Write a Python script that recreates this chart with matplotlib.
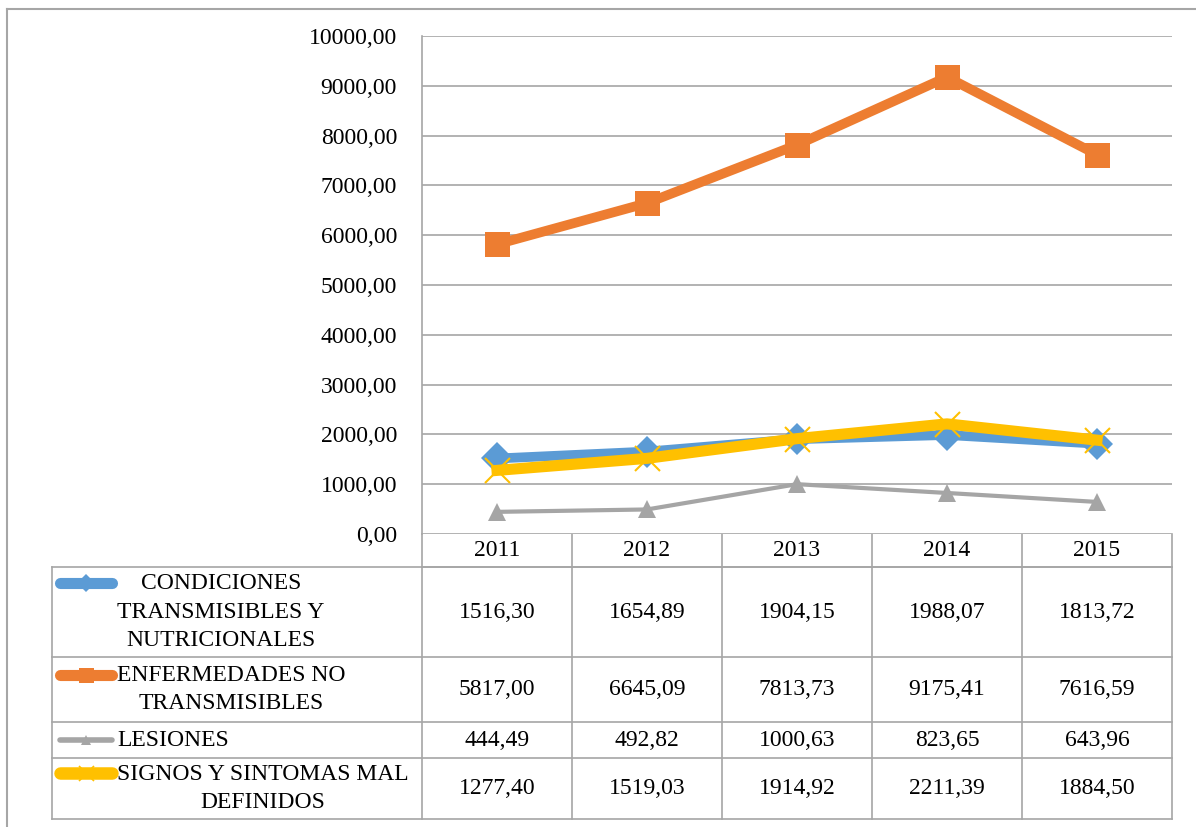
import matplotlib.pyplot as plt
import numpy as np

plt.rcParams['font.family'] = 'serif'
plt.rcParams['font.serif'] = ['Liberation Serif', 'DejaVu Serif']

annees = ["2011", "2012", "2013", "2014", "2015"]
noms = ["CONDICIONES\nTRANSMISIBLES Y\nNUTRICIONALES",
        "ENFERMEDADES NO\nTRANSMISIBLES",
        "LESIONES",
        "SIGNOS Y SINTOMAS MAL\nDEFINIDOS"]
transmisibles = [1516.30, 1654.89, 1904.15, 1988.07, 1813.72]
no_transmisibles = [5817.00, 6645.09, 7813.73, 9175.41, 7616.59]
lesiones = [444.49, 492.82, 1000.63, 823.65, 643.96]
signos = [1277.40, 1519.03, 1914.92, 2211.39, 1884.50]
series = [transmisibles, no_transmisibles, lesiones, signos]

couleurs = ["#5B9BD5", "#ED7D31", "#A5A5A5", "#FFC000"]
marqueurs = ["D", "s", "^", "x"]
epaisseurs = [7, 7, 3, 8]
tailles = [16, 18, 13, 18]

W, H = 1196, 827
fig = plt.figure(figsize=(W / 100, H / 100), dpi=100)

# zone du graphe en pixels
gx0, gx1, gy0, gy1 = 422, 1172, 36, 534
ax = fig.add_axes([gx0 / W, 1 - gy1 / H, (gx1 - gx0) / W, (gy1 - gy0) / H])
x = np.arange(len(annees))
for i in range(len(series)):
    mew = 1.5 if marqueurs[i] == "x" else 0
    ax.plot(x, series[i], color=couleurs[i], lw=epaisseurs[i], marker=marqueurs[i],
            ms=tailles[i], mew=mew, mec=couleurs[i], solid_joinstyle="round", zorder=3 + i)
ax.set_xlim(-0.5, len(annees) - 0.5)
ax.set_ylim(0, 10000)
ax.set_yticks(np.arange(0, 10001, 1000))
ax.set_yticklabels([f"{v:.2f}".replace(".", ",") for v in np.arange(0, 10001, 1000)], fontsize=17)
ax.tick_params(axis="y", length=0, pad=18)
ax.set_xticks([])
ax.grid(axis="y", color="#A6A6A6", lw=1.2)
ax.set_axisbelow(True)
for s in ["top", "right", "bottom"]:
    ax.spines[s].set_visible(False)
ax.spines["left"].set_color("#A6A6A6")
ax.spines["left"].set_linewidth(1.2)

# tableau de données, coordonnées en pixels
tab = fig.add_axes([0, 0, 1, 1], zorder=-1)
tab.set_xlim(0, W)
tab.set_ylim(H, 0)
tab.axis("off")
gris = "#A6A6A6"

# cadre extérieur
tab.plot([7, 7], [9, H], color=gris, lw=1.5)
tab.plot([7, W], [9, 9], color=gris, lw=1.5)

col_bords = np.linspace(gx0, gx1, len(annees) + 1)
col_centres = (col_bords[:-1] + col_bords[1:]) / 2
lignes = [534, 567, 657, 722, 758, 819]
tx0 = 52

# en-tête années
tab.plot([gx0, gx1], [lignes[1], lignes[1]], color=gris, lw=1.2)
for b in col_bords:
    tab.plot([b, b], [lignes[0], lignes[-1]], color=gris, lw=1.2)
for c, a in zip(col_centres, annees):
    tab.text(c, (lignes[0] + lignes[1]) / 2, a, ha="center", va="center", fontsize=17)

# lignes des séries
for y in lignes[1:]:
    tab.plot([tx0, gx1], [y, y], color=gris, lw=1.2)
tab.plot([tx0, tx0], [lignes[1], lignes[-1]], color=gris, lw=1.2)

premiere_ligne = [583, 675, 740, 773]
for i in range(len(series)):
    ym = (lignes[i + 1] + lignes[i + 2]) / 2
    yk = premiere_ligne[i]
    mew = 1.2 if marqueurs[i] == "x" else 0
    tab.plot([60, 112], [yk, yk], color=couleurs[i], lw=epaisseurs[i] + 1,
             solid_capstyle="round")
    tab.plot([86], [yk], color=couleurs[i], marker=marqueurs[i], ms=tailles[i] * 0.6,
             mew=mew, mec=couleurs[i])
    tab.text(117, ym, noms[i], ha="left", va="center", multialignment="center",
             fontsize=17, linespacing=1.45)
    for c, v in zip(col_centres, series[i]):
        tab.text(c, ym, f"{v:.2f}".replace(".", ","), ha="center", va="center", fontsize=17)

fig.savefig("out.png", dpi=100)
